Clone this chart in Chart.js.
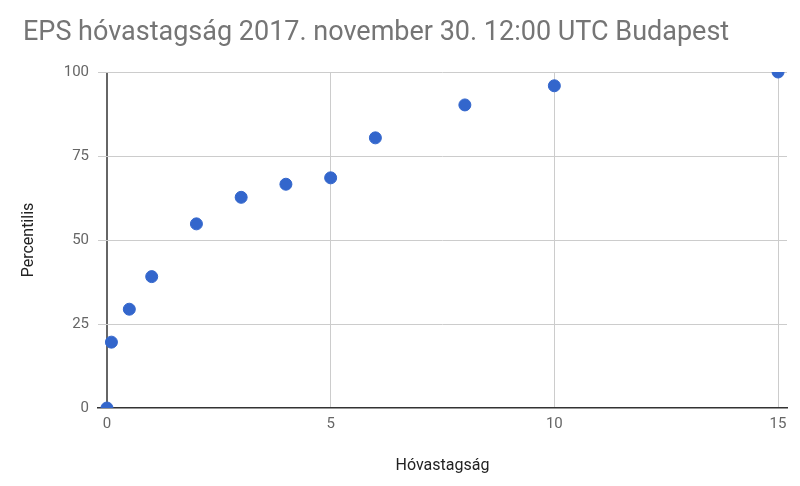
<!DOCTYPE html>
<html>
<head>
<meta charset="utf-8">
<script src="https://cdn.jsdelivr.net/npm/chart.js@4/dist/chart.umd.min.js"></script>
<style>
  body { margin: 0; background: #fff; }
  #wrap { width: 800px; height: 486px; position: relative; }
</style>
</head>
<body>
<div id="wrap"><canvas id="snowChart"></canvas></div>
<script>
// Hóvastagság (cm) és percentilis értékek
const depthValues = [0, 0.1, 0.5, 1, 2, 3, 4, 5, 6, 8, 10, 15];
const percentValues = [0, 19.6, 29.4, 39.1, 54.8, 62.7, 66.6, 68.5, 80.4, 90.2, 95.9, 100];
const xTicks = [0, 5, 10, 15];
const yTicks = [0, 25, 50, 75, 100];

const points = depthValues.map(function(d, i) {
  return { x: d, y: percentValues[i] };
});

var snowChart = new Chart("snowChart", {
  type: "scatter",
  data: {
    datasets: [{
      data: points,
      backgroundColor: "#3366cc",
      borderColor: "#3366cc",
      pointRadius: 6,
      pointHoverRadius: 6,
      clip: 0
    }]
  },
  options: {
    responsive: true,
    maintainAspectRatio: false,
    animation: false,
    events: [],
    layout: { padding: { left: 23, right: 13, top: 0, bottom: 0 } },
    plugins: {
      legend: { display: false },
      tooltip: { enabled: false },
      title: {
        display: true,
        text: "EPS hóvastagság 2017. november 30. 12:00 UTC Budapest",
        align: "start",
        color: "#757575",
        font: { family: "Roboto", size: 27, weight: "normal", lineHeight: 1.2 },
        padding: { top: 17, bottom: 22.6 }
      }
    },
    scales: {
      x: {
        type: "linear",
        min: -0.2,
        max: 15.2,
        afterBuildTicks: function(scale) {
          scale.ticks = xTicks.map(function(v) { return { value: v }; });
        },
        afterFit: function(scale) { scale.height = 78; },
        grid: {
          drawTicks: false,
          color: function(ctx) { return ctx.tick && ctx.tick.value === 0 ? "#666" : "#cccccc"; },
          lineWidth: function(ctx) { return ctx.tick && ctx.tick.value === 0 ? 2 : 1; }
        },
        border: { display: true, color: "#333", width: 1.5 },
        ticks: {
          color: "#666",
          padding: 7,
          maxRotation: 0,
          font: { family: "Roboto", size: 15 }
        },
        title: {
          display: true,
          text: "Hóvastagság",
          color: "#222",
          font: { family: "Roboto", size: 16, lineHeight: 1.2 },
          padding: { top: 0, bottom: 10.4 }
        }
      },
      y: {
        type: "linear",
        min: 0,
        max: 100,
        afterBuildTicks: function(scale) {
          scale.ticks = yTicks.map(function(v) { return { value: v }; });
        },
        afterFit: function(scale) { scale.width = 75; },
        grid: {
          drawTicks: false,
          color: function(ctx) { return ctx.tick && ctx.tick.value === 0 ? "rgba(0,0,0,0)" : "#cccccc"; }
        },
        border: { display: false },
        ticks: {
          color: "#666",
          padding: 9,
          font: { family: "Roboto", size: 15 }
        },
        title: {
          display: true,
          text: "Percentilis",
          color: "#222",
          font: { family: "Roboto", size: 16, lineHeight: 0.8 },
          padding: { top: 0, bottom: 0 }
        }
      }
    }
  }
});
</script>
</body>
</html>
